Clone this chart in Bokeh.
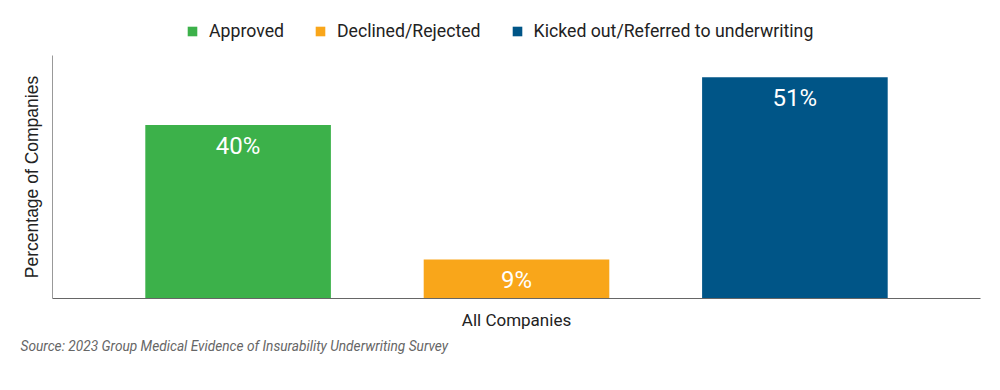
import math
from bokeh.plotting import figure
from bokeh.models import Range1d, Legend, LegendItem, Label, ColumnDataSource, FixedTicker
from bokeh.core.properties import value
from bokeh.embed import file_html
from bokeh.resources import INLINE

categories = ["Approved", "Declined/Rejected", "Kicked out/Referred to underwriting"]
values = [40, 9, 51]
labels = ["40%", "9%", "51%"]
colors = ["#3cb14a", "#f9a61a", "#005587"]
group_label = "All Companies"
y_title = "Percentage of Companies"
source_note = "Source: 2023 Group Medical Evidence of Insurability Underwriting Survey"

positions = [i + 1 for i in range(len(categories))]
W, H = 984, 374
# plot area in page pixels: left 52, right 980, top 55, bottom 298
x0, x1 = 1 / 3, len(categories) + 2 / 3
y_max = 56
px_x = (980 - 52) / (x1 - x0)
px_y = (298 - 55) / y_max
x_range = Range1d(x0 - 52 / px_x, x1 + (W - 980) / px_x)
y_range = Range1d(-(H - 298) / px_y, 298 / px_y)

p = figure(width=W, height=H, output_backend="svg", toolbar_location=None,
           x_range=x_range, y_range=y_range,
           min_border_left=0, min_border_right=0, min_border_top=0, min_border_bottom=0)
p.outline_line_color = None
p.xgrid.visible = False
p.ygrid.visible = False

items = []
for i, cat in enumerate(categories):
    src = ColumnDataSource(dict(x=[positions[i]], top=[values[i]], lab=[labels[i]]))
    r = p.vbar(x="x", top="top", width=2 / 3, color=colors[i], line_color=None, source=src)
    p.text(x="x", y="top", text="lab", source=src, text_align="center", text_baseline="middle",
           y_offset=21, text_color="white", text_font=value("Roboto"), text_font_size="24px")
    items.append(LegendItem(label=cat, renderers=[r]))

legend = Legend(items=items, orientation="horizontal", location=(186, 333),
                label_text_font="Roboto", label_text_font_size="17.7px", label_text_color="#222222",
                glyph_width=12, glyph_height=12, label_standoff=11, spacing=30,
                padding=0, margin=0, border_line_color=None, background_fill_alpha=0)
p.add_layout(legend)

for ax in (p.xaxis[0], p.yaxis[0]):
    ax.ticker = FixedTicker(ticks=[])
    ax.major_tick_line_color = None
    ax.minor_tick_line_color = None
    ax.major_tick_out = 0
    ax.major_tick_in = 0
    ax.minor_tick_out = 0
    ax.minor_tick_in = 0
    ax.major_label_standoff = 0

p.xaxis.fixed_location = 0
p.xaxis.bounds = (x0, x1)
p.xaxis.axis_line_color = "#666666"
p.yaxis.fixed_location = x0
p.yaxis.bounds = (0, y_max)
p.yaxis.axis_line_color = "#999999"

p.add_layout(Label(x=516, y=H - 319, x_units="screen", y_units="screen", text=group_label,
                   text_align="center", text_baseline="middle", text_font="Roboto",
                   text_font_size="17px", text_color="#222222"))
p.add_layout(Label(x=31.5, y=H - 176.5, x_units="screen", y_units="screen", text=y_title,
                   angle=math.pi / 2, text_align="center", text_baseline="middle",
                   text_font="Liberation Sans", text_font_size="17.5px", text_color="#222222"))
p.add_layout(Label(x=20, y=H - 345, x_units="screen", y_units="screen", text=source_note,
                   text_align="left", text_baseline="middle", text_font="Roboto",
                   text_font_size="13.7px", text_font_style="italic", text_color="#666666"))

open("out.html", "w").write(file_html(p, INLINE))
